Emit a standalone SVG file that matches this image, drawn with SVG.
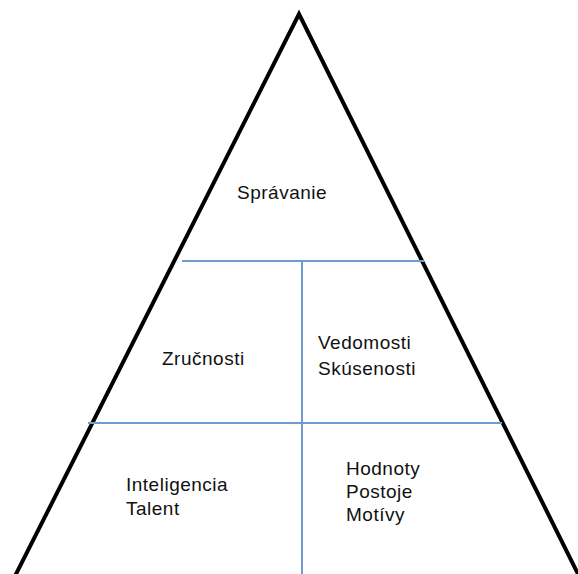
<svg xmlns="http://www.w3.org/2000/svg" width="578" height="574" viewBox="0 0 578 574">
  <style>
    .edge { fill: none; stroke: #000; stroke-width: 4; stroke-linejoin: miter; }
    .divider { fill: none; stroke: #6f9bd2; stroke-width: 2; }
    .label { font-family: "Liberation Sans", Arial, sans-serif; font-size: 19px; letter-spacing: 0.5px; fill: #111; }
  </style>
  <rect width="578" height="574" fill="#fff"/>
  <!-- pyramid outline -->
  <g id="pyramid">
    <polyline class="edge" points="11,584 299,14 588,594"/>
  </g>
  <!-- dividing lines between the tiers -->
  <g id="connectors">
    <line class="divider" x1="182" y1="261" x2="424" y2="261"/>
    <line class="divider" x1="88" y1="423" x2="502" y2="423"/>
    <line class="divider" x1="302" y1="261" x2="302" y2="574"/>
  </g>
  <g id="spravanie">
    <text class="label" x="237" y="199">Správanie</text>
  </g>
  <g id="zrucnosti">
    <text class="label" x="162" y="365">Zručnosti</text>
  </g>
  <g id="vedomosti">
    <text class="label" x="318" y="349">Vedomosti</text>
    <text class="label" x="318" y="375">Skúsenosti</text>
  </g>
  <g id="inteligencia">
    <text class="label" x="126" y="491">Inteligencia</text>
    <text class="label" x="126" y="515">Talent</text>
  </g>
  <g id="hodnoty">
    <text class="label" x="346" y="475">Hodnoty</text>
    <text class="label" x="346" y="498">Postoje</text>
    <text class="label" x="346" y="521">Motívy</text>
  </g>
</svg>
